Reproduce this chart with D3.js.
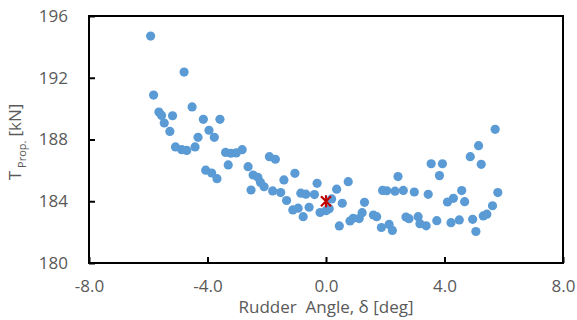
<!DOCTYPE html>
<html>
<head>
<meta charset="utf-8">
<script src="https://cdn.jsdelivr.net/npm/d3@7"></script>
<style>
  body { margin: 0; background: #fff; }
  svg text { font-family: "Open Sans", "Liberation Sans", sans-serif; fill: #595959; }
</style>
</head>
<body>
<div id="chart"></div>
<script>
// rudder angle [deg] and propeller thrust [kN]
const rudderAngle = [
  -5.92, -5.82, -5.64, -5.55, -5.46, -5.18, -5.27, -5.08, -4.87, -4.70,
  -4.42, -4.32, -4.79, -4.52, -4.14, -3.95, -3.77, -3.58, -3.39, -3.21,
  -3.03, -2.83, -1.91, -1.71, -4.06, -3.86, -3.68, -3.30, -2.63, -2.46,
  -2.30, -2.21, -2.09, -2.53, -1.80, -1.53, -1.42, -1.33, -1.05, -1.12,
  -0.94, -0.77, -0.85, -0.68, -0.39, -0.57, -0.30, -0.20, 0.00, 0.11,
  0.19, 0.36, 0.55, 0.75, 0.45, 0.81, 0.92, 1.12, 1.22, 1.30,
  1.60, 1.71, 1.91, 2.05, 1.87, 2.13, 2.24, 2.33, 2.61, 2.43,
  2.98, 2.70, 2.80, 3.11, 3.17, 3.38, 3.45, 3.55, 3.93, 3.83,
  3.74, 4.10, 4.30, 4.58, 4.68, 4.22, 4.50, 4.87, 5.15, 5.24,
  4.95, 5.06, 5.31, 5.43, 5.62, 5.80, 5.71
];
const thrust = [
  194.70, 190.88, 189.78, 189.56, 189.07, 189.54, 188.52, 187.52, 187.34, 187.29,
  187.52, 188.14, 192.37, 190.11, 189.31, 188.60, 188.14, 189.31, 187.16, 187.11,
  187.13, 187.34, 186.89, 186.72, 186.01, 185.83, 185.46, 186.35, 186.24, 185.70,
  185.55, 185.22, 184.94, 184.73, 184.67, 184.56, 185.38, 184.05, 185.81, 183.44,
  183.55, 183.00, 184.52, 184.46, 184.43, 183.61, 185.16, 183.27, 183.39, 183.52,
  184.15, 184.78, 183.87, 185.27, 182.40, 182.72, 182.90, 182.88, 183.26, 183.93,
  183.11, 183.00, 184.70, 184.68, 182.30, 182.50, 182.11, 184.65, 184.70, 185.60,
  184.60, 182.98, 182.87, 183.00, 182.55, 182.41, 184.45, 186.43, 186.43, 185.66,
  182.74, 183.95, 184.19, 184.69, 183.97, 182.61, 182.79, 186.89, 187.60, 186.39,
  182.83, 182.04, 183.05, 183.16, 183.71, 184.56, 188.66
];
// reference point (red star)
const refAngle = [0.0];
const refThrust = [184.0];

const xTicks = [-8, -4, 0, 4, 8];
const xTickLabels = ["-8.0", "-4.0", "0.0", "4.0", "8.0"];
const yTicks = [180, 184, 188, 192, 196];
const yTickLabels = ["180", "184", "188", "192", "196"];

const width = 577, height = 320;
const margin = {top: 16, right: 14, bottom: 57, left: 89};
const innerW = width - margin.left - margin.right;
const innerH = height - margin.top - margin.bottom;

const svg = d3.select("#chart")
  .append("svg")
  .attr("width", width)
  .attr("height", height);

const g = svg.append("g")
  .attr("transform", `translate(${margin.left},${margin.top})`);

const x = d3.scaleLinear().domain([-8, 8]).range([0, innerW]);
const y = d3.scaleLinear().domain([180, 196]).range([innerH, 0]);

// axes, ticks pointing inward
const xAxis = g.append("g")
  .attr("transform", `translate(0,${innerH})`)
  .call(d3.axisBottom(x)
    .tickValues(xTicks)
    .tickFormat((d, i) => xTickLabels[i])
    .tickSizeInner(-6)
    .tickSizeOuter(0)
    .tickPadding(17));

const yAxis = g.append("g")
  .call(d3.axisLeft(y)
    .tickValues(yTicks)
    .tickFormat((d, i) => yTickLabels[i])
    .tickSizeInner(-6)
    .tickSizeOuter(0)
    .tickPadding(21));

[xAxis, yAxis].forEach(a => {
  a.select(".domain").remove();
  a.selectAll(".tick line").attr("stroke", "#000").attr("stroke-width", 2);
  a.selectAll(".tick text")
    .attr("font-size", 17)
    .attr("fill", "#595959")
    .style("font-family", "'Open Sans', 'Liberation Sans', sans-serif");
});

// frame
g.append("rect")
  .attr("x", 0).attr("y", 0)
  .attr("width", innerW).attr("height", innerH)
  .attr("fill", "none")
  .attr("stroke", "#000")
  .attr("stroke-width", 2);

// data points
const pts = rudderAngle.map((a, i) => ({a: a, t: thrust[i]}));
g.append("g")
  .selectAll("circle")
  .data(pts)
  .enter().append("circle")
  .attr("cx", d => x(d.a))
  .attr("cy", d => y(d.t))
  .attr("r", 4.6)
  .attr("fill", "#5B9BD5");

// reference marker, X with a vertical stroke
g.append("g")
  .selectAll("path")
  .data(refAngle.map((a, i) => ({a: a, t: refThrust[i]})))
  .enter().append("path")
  .attr("d", d => {
    const cx = x(d.a), cy = y(d.t), s = 5;
    return `M${cx - s},${cy - s}L${cx + s},${cy + s}M${cx - s},${cy + s}L${cx + s},${cy - s}M${cx},${cy - s - 1}L${cx},${cy + s + 1}`;
  })
  .attr("stroke", "#C00000")
  .attr("stroke-width", 2.2)
  .attr("fill", "none");

// axis titles
svg.append("text")
  .attr("x", margin.left + innerW / 2)
  .attr("y", 313)
  .attr("text-anchor", "middle")
  .attr("font-size", 17)
  .attr("xml:space", "preserve")
  .text("Rudder  Angle, δ [deg]");

const yt = svg.append("text")
  .attr("transform", "translate(21,142) rotate(-90)")
  .attr("text-anchor", "middle")
  .attr("font-size", 17);
yt.append("tspan").text("T");
yt.append("tspan").attr("font-size", 11).attr("dy", 5).attr("dx", 3).text("Prop.");
yt.append("tspan").attr("dy", -5).attr("dx", 4).text("[kN]");
</script>
</body>
</html>
